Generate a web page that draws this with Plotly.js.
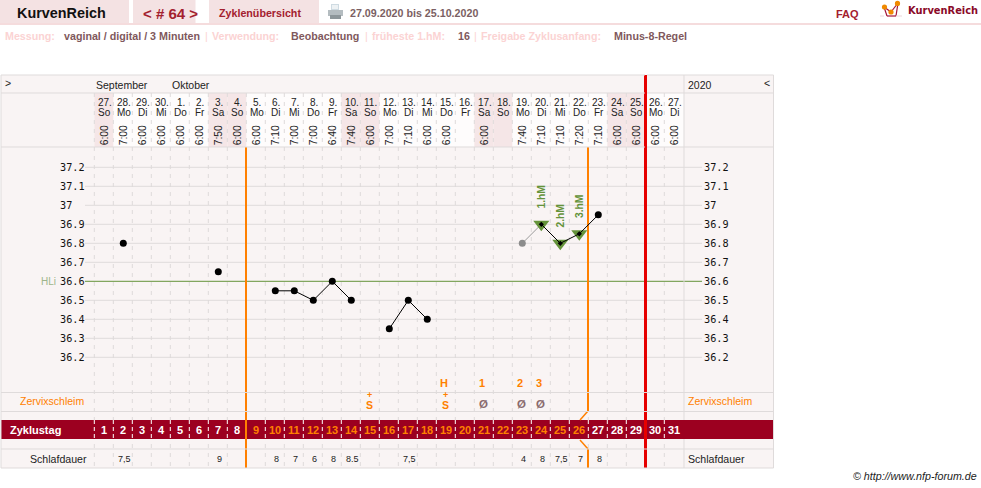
<!DOCTYPE html>
<html><head><meta charset="utf-8">
<script src="https://cdn.plot.ly/plotly-3.0.1.min.js"></script>
<style>html,body{margin:0;padding:0;background:#fff;overflow:hidden}#c{width:981px;height:488px}</style>
</head><body><div id="c"></div>
<script>
// ---------- data ----------
const cycleDays = [1,2,3,4,5,6,7,8,9,10,11,12,13,14,15,16,17,18,19,20,21,22,23,24,25,26,27,28,29,30,31];
const dates = ['27.','28.','29.','30.','1.','2.','3.','4.','5.','6.','7.','8.','9.','10.','11.','12.','13.','14.','15.','16.','17.','18.','19.','20.','21.','22.','23.','24.','25.','26.','27.'];
const weekdays = ['So','Mo','Di','Mi','Do','Fr','Sa','So','Mo','Di','Mi','Do','Fr','Sa','So','Mo','Di','Mi','Do','Fr','Sa','So','Mo','Di','Mi','Do','Fr','Sa','So','Mo','Di'];
const times = ['6:00','7:00','6:00','6:00','6:00','6:00','7:50','6:00','6:00','7:10','7:00','7:00','6:40','7:40','6:00','7:00','7:10','6:00','6:00','','6:00','','7:40','7:10','7:10','7:20','7:10','6:00','6:00','6:00','6:00'];
const temperature = [null,36.8,null,null,null,null,36.65,null,null,36.55,36.55,36.5,36.6,36.5,null,36.35,36.5,36.4,null,null,null,null,null,36.9,36.8,36.85,36.95,null,null,null,null];
const excludedDays = [23,24];
const excludedTemps = [36.8,36.9];
const riseDays = [24,25,26];
const riseTemps = [36.9,36.8,36.85];
const riseLabels = ['1.hM','2.hM','3.hM'];
const tempTicks = [37.2,37.1,37,36.9,36.8,36.7,36.6,36.5,36.4,36.3,36.2];
const coverLine = 36.6;
const sleepDays = [2,7,10,11,12,13,14,17,23,24,25,26,27];
const sleepLabels = ['7,5','9','8','7','6','8','8.5','7,5','4','8','7,5','7','8'];
const mucusPeakDays = [19,21,23,24];
const mucusPeakLabels = ['H','1','2','3'];
const mucusSDays = [15,19];
const mucusDryDays = [21,23,24];
const weekendDays = [1,7,8,14,15,21,22,28,29];

// ---------- page geometry helpers ----------
const W=981,H=488, X1=104.3, STEP=19, Y372=167.3, PXDEG=190;
const xRange=[1-X1/STEP, 1+(W-X1)/STEP];
const yRange=[37.2-(H-Y372)/PXDEG, 37.2+Y372/PXDEG];
const px=x=>x/W, py=y=>1-y/H;
const edge=d=>d+0.5-0.026;   // right border of a day column, in day units
const BORDER='#dfdbdb', PANEL='#f9f4f4', PINK='#f4e2e3', ORANGE='#ff8000', RED='#e60000', BAND='#9c0020', GREEN='#64933a', HEAD='#a3202e';
const SANS='"Liberation Sans",Arial,sans-serif', NARROW='"Liberation Sans Narrow","Liberation Sans",Arial,sans-serif', MONO='"DejaVu Sans Mono",monospace';

const shapes=[];
const rect=(x0,y0,x1,y1,fill)=>shapes.push({type:'rect',xref:'paper',yref:'paper',x0:px(x0),x1:px(x1),y0:py(y0),y1:py(y1),fillcolor:fill,line:{width:0},layer:'below'});
const hline=(x0,x1,y,c,w)=>shapes.push({type:'line',xref:'paper',yref:'paper',x0:px(x0),x1:px(x1),y0:py(y),y1:py(y),line:{color:c,width:w||1},layer:'below'});
const seg=(x0,y0,x1,y1,c,w,dash)=>shapes.push({type:'line',xref:'paper',yref:'paper',x0:px(x0),x1:px(x1),y0:py(y0),y1:py(y1),line:{color:c,width:w||1,dash:dash||'solid'},layer:'below'});
const dot=(x,y,r,c)=>shapes.push({type:'circle',xref:'paper',yref:'paper',x0:px(x-r),x1:px(x+r),y0:py(y-r),y1:py(y+r),fillcolor:c,line:{width:0},layer:'below'});

// top chrome
rect(0,0,129,23,PINK); rect(133,0,195.5,23,PINK); rect(209,0,319,23,PINK); rect(0,23,W,25,'#f5dcdd');
// printer icon
rect(331,4,339,11,'#cfdbe2'); rect(328,10,343,16,'#b4bcc0'); rect(330,15,341,19,'#8d969a'); rect(332,5,338,9,'#eef2f4');
// logo icon
seg(884,7,887,16,'#a3163a',1.2); seg(887,16,896,16,'#a3163a',1.2); seg(896,16,898,3,'#a3163a',1.2); seg(884,7,891,12,'#a3163a',1.2); seg(891,12,898,3,'#a3163a',1.2);
seg(880,16,884,16,'#ead7da',1); seg(896,16,902,16,'#ead7da',1);
dot(884.5,7,2.6,'#f08a00'); dot(891,12,2.6,'#f08a00'); dot(897.5,3.4,2.6,'#f08a00');

// chart panel
rect(1,75,773.5,468,PANEL);
rect(94.3,93,684,147,'#fefcfc');
weekendDays.forEach(d=>shapes.push({type:'rect',xref:'x',yref:'paper',x0:d-0.526,x1:d+0.474,y0:py(93),y1:py(147),fillcolor:'#f5e6e7',line:{width:0},layer:'below'}));
// temperature grid
tempTicks.forEach(t=>shapes.push({type:'line',xref:'paper',yref:'y',x0:px(85),x1:px(702),y0:t,y1:t,line:{color:t===coverLine?GREEN:BORDER,width:1},layer:'below'}));
// day column dashes
cycleDays.slice(0,30).forEach(d=>shapes.push({type:'line',xref:'x',yref:'paper',x0:edge(d)-1,x1:edge(d)-1,y0:py(93),y1:py(468),line:{color:'#dedada',width:1,dash:'4px,5px'},layer:'below'}));
shapes.push({type:'line',xref:'x',yref:'paper',x0:edge(30),x1:edge(30),y0:py(93),y1:py(468),line:{color:'#dedada',width:1,dash:'4px,5px'},layer:'below'});
// band
rect(1,420,773.5,439,BAND);
cycleDays.forEach(d=>shapes.push({type:'line',xref:'x',yref:'paper',x0:edge(d-1),x1:edge(d-1),y0:py(420),y1:py(439),line:{color:'#ffffff',width:1,dash:'4px,3px'},layer:'below'}));
// orange and red markers
seg(246,147,246,468,ORANGE,2);
seg(588,147,588,411,ORANGE,2);
seg(588,411,580,420,ORANGE,1.5);
seg(580,440,588,449,ORANGE,1.5);
seg(588,449,588,468,ORANGE,2);
seg(645.5,75,645.5,468,RED,3);
// frame lines
[75,93,147,392.5,411.5,449,468].forEach(y=>{ if(y<147.5) { hline(1,645,y,BORDER); hline(647,773.5,y,BORDER);} else hline(1,773.5,y,BORDER); });
seg(1,75,1,468,BORDER); seg(773.5,75,773.5,468,BORDER); seg(684,75,684,420,BORDER); seg(684,439,684,468,BORDER);

// ---------- text ----------
const ann=[];
const t=(text,x,y,o={})=>ann.push({text,x:px(x),y:py(y),xref:'paper',yref:'paper',xanchor:'left',yanchor:'middle',showarrow:false,borderpad:0,textangle:o.angle||0,
  font:{family:o.f||SANS,size:o.s||10.5,color:o.c||'#222'}});
const dt=(text,d,y,o={})=>ann.push({text,x:d,y:py(y),xref:'x',yref:'paper',xanchor:'center',yanchor:'middle',showarrow:false,borderpad:0,textangle:o.angle||0,
  font:{family:o.f||SANS,size:o.s||10.5,color:o.c||'#222'}});
const b=s=>'<b>'+s+'</b>';

t(b('KurvenReich'),16,12.5,{s:14.4,c:'#111'});
t(b('&lt; # 64 &gt;'),141.5,13,{s:15,c:HEAD});
t(b('Zyklenübersicht'),218,12.5,{s:10.7,c:HEAD});
t(b('27.09.2020 bis 25.10.2020'),349,12.5,{s:10.7,c:'#7b5f63'});
t(b('FAQ'),835,14.5,{s:11,c:HEAD});
t(b('KurvenReich'),907,10.5,{s:9.9,c:'#8a0a28',f:'"DejaVu Sans",sans-serif'});

const LP='#fbd3d3', LD='#80585c';
t(b('Messung:'),4,36,{s:10.7,c:LP});
t(b('vaginal / digital / 3 Minuten'),63,36,{s:10.7,c:LD});
t('|',203.5,36,{s:10.7,c:LP});
t(b('Verwendung:'),211,36,{s:10.7,c:LP});
t(b('Beobachtung'),290,36,{s:10.7,c:LD});
t('|',363.5,36,{s:10.7,c:LP});
t(b('früheste 1.hM:'),371,36,{s:10.7,c:LP});
t(b('16'),457,36,{s:10.7,c:LD});
t('|',472.5,36,{s:10.7,c:LP});
t(b('Freigabe Zyklusanfang:'),480,36,{s:10.7,c:LP});
t(b('Minus-8-Regel'),613,36,{s:10.7,c:LD});

t('&gt;',4,83,{s:10.5});
t('September',95,85,{s:10.5});
t('Oktober',171,85,{s:10.5});
t('2020',687,85,{s:10.5});
t('&lt;',763,83,{s:10.5});

cycleDays.forEach((d,i)=>{
  dt(dates[i],d+0.02,102,{f:NARROW,s:10});
  dt(weekdays[i],d+0.02,112,{f:NARROW,s:10});
  if(times[i]) dt(times[i],d,135,{angle:-90,s:10.3});
  const col=(d>=9&&d<=26)?ORANGE:'#ffffff';
  dt(b(String(d)),d,430,{s:11,c:col});
});
tempTicks.forEach(v=>{
  const lab=String(v);
  ann.push({text:lab,x:px(58.5),y:v,xref:'paper',yref:'y',xanchor:'left',yanchor:'middle',showarrow:false,borderpad:0,font:{family:MONO,size:10.2,color:'#111'}});
  ann.push({text:lab,x:px(703),y:v,xref:'paper',yref:'y',xanchor:'left',yanchor:'middle',showarrow:false,borderpad:0,font:{family:MONO,size:10.2,color:'#111'}});
});
t('HLi',39.5,281,{s:10,c:'#9db58a'});
t('Zervixschleim',19,401,{s:10.5,c:ORANGE});
t('Zervixschleim',687,401,{s:10.5,c:ORANGE});
t(b('Zyklustag'),9,430,{s:11,c:'#fff'});
t('Schlafdauer',29,458.5,{s:10.6});
t('Schlafdauer',687,458.5,{s:10.6});
t('<i>© http://www.nfp-forum.de</i>',852,476,{s:10.7,c:'#222'});

sleepDays.forEach((d,i)=>dt(sleepLabels[i],d+0.08,458.5,{s:9,c:'#222'}));
mucusPeakDays.forEach((d,i)=>dt(b(mucusPeakLabels[i]),d-0.14,383,{s:11,c:ORANGE}));
mucusSDays.forEach(d=>{ dt(b('+'),d-0.03,394.5,{s:9,c:ORANGE}); dt(b('S'),d-0.03,405,{s:10.5,c:ORANGE}); });
mucusDryDays.forEach(d=>dt(b('Ø'),d-0.06,403.5,{s:11.5,c:'#8a6a6e'}));
riseDays.forEach((d,i)=>ann.push({text:b(riseLabels[i]),x:d,y:riseTemps[i],xref:'x',yref:'y',xanchor:'center',yanchor:'middle',yshift:27,showarrow:false,borderpad:0,textangle:-90,
  font:{family:SANS,size:10.3,color:GREEN}}));

// ---------- traces ----------
const traces=[
 {x:excludedDays,y:excludedTemps,mode:'lines',line:{color:'#9a9a9a',width:1},hoverinfo:'skip'},
 {x:[excludedDays[0]],y:[excludedTemps[0]],mode:'markers',marker:{color:'#8c8c8c',size:7},hoverinfo:'skip'},
 {x:riseDays,y:riseTemps,mode:'markers',marker:{symbol:'triangle-down',color:GREEN,size:14,line:{width:0}},hoverinfo:'skip'},
 {x:cycleDays,y:temperature,mode:'lines',connectgaps:false,line:{color:'#000',width:1},hoverinfo:'skip'},
 {x:cycleDays.filter((d,i)=>temperature[i]!==null&&!riseDays.includes(d)),y:temperature.filter((v,i)=>v!==null&&!riseDays.includes(cycleDays[i])),mode:'markers',marker:{color:'#000',size:7},hoverinfo:'skip'},
 {x:riseDays,y:riseTemps,mode:'markers',marker:{color:'#000',size:4,symbol:'diamond'},hoverinfo:'skip'}
];
Plotly.newPlot('c',traces,{
  width:W,height:H,margin:{l:0,r:0,t:0,b:0,pad:0},paper_bgcolor:'#fff',plot_bgcolor:'rgba(0,0,0,0)',showlegend:false,
  xaxis:{range:xRange,visible:false,fixedrange:true},
  yaxis:{range:yRange,visible:false,fixedrange:true},
  shapes:shapes,annotations:ann
},{displayModeBar:false,staticPlot:true});
</script></body></html>
